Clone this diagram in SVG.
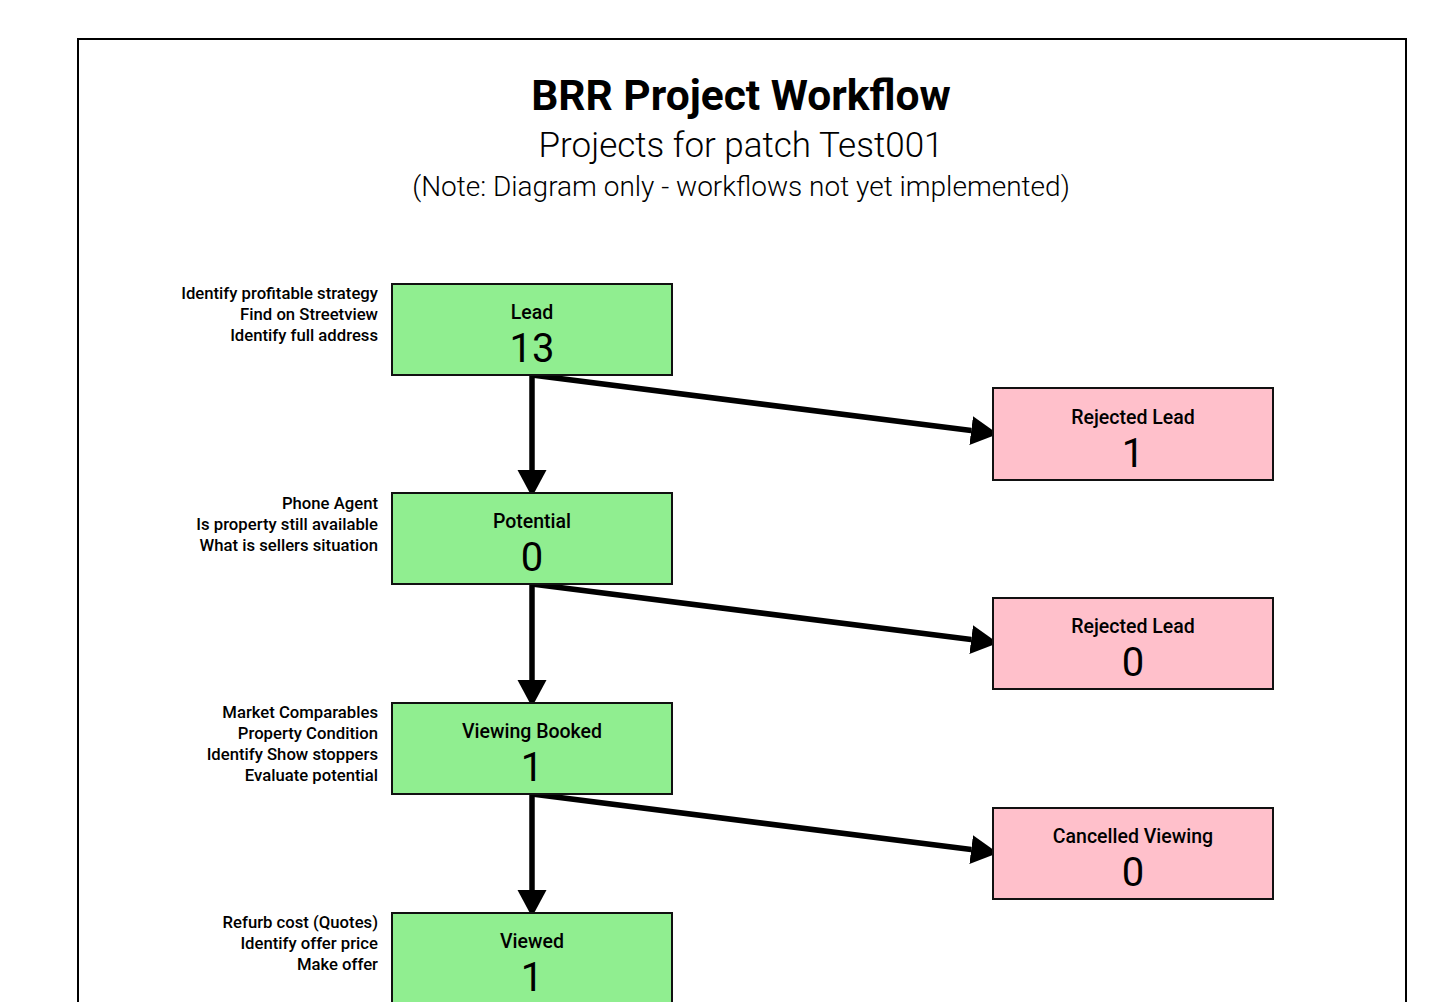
<svg xmlns="http://www.w3.org/2000/svg" width="1448" height="1002" viewBox="0 0 1448 1002">
<defs>
<style>
.frame{fill:#fff;stroke:#000;stroke-width:2}
.ok{fill:#90EE90;stroke:#111;stroke-width:2}
.bad{fill:#FFC0CB;stroke:#111;stroke-width:2}
.t{font-family:Roboto,"Liberation Sans",sans-serif;fill:#000}
.title{font-size:42.5px;font-weight:700;text-anchor:middle}
.sub{font-size:35px;font-weight:300;text-anchor:middle}
.note{font-size:28px;font-weight:300;text-anchor:middle}
.lbl{font-size:16.7px;font-weight:500;text-anchor:end}
.name{font-size:19.5px;font-weight:500;text-anchor:middle}
.cnt{font-size:40px;font-weight:400;text-anchor:middle}
.edge{stroke:#000;stroke-width:5.5;fill:none;marker-end:url(#ah)}
</style>
<marker id="ah" markerUnits="userSpaceOnUse" markerWidth="28" markerHeight="30" refX="0" refY="14.5" orient="auto" viewBox="0 0 28 29">
<path d="M0,0 L27,14.5 L0,29 z" fill="#000"/>
</marker>
</defs>
<rect x="0" y="0" width="1448" height="1002" fill="#fff"/>
<rect class="frame" x="78" y="39" width="1328" height="1000"/>
<g id="header">
<text class="t title" x="741" y="110">BRR Project Workflow</text>
<text class="t sub" x="741" y="157">Projects for patch Test001</text>
<text class="t note" x="741" y="196">(Note: Diagram only - workflows not yet implemented)</text>
</g>
<g id="connectors">
<line class="edge" x1="532" y1="375" x2="532" y2="470"/>
<line class="edge" x1="532" y1="375" x2="971.2" y2="430.6"/>
<line class="edge" x1="532" y1="584" x2="532" y2="680"/>
<line class="edge" x1="532" y1="584" x2="971.2" y2="639.6"/>
<line class="edge" x1="532" y1="794" x2="532" y2="890"/>
<line class="edge" x1="532" y1="794" x2="971.2" y2="849.6"/>
<line class="edge" x1="532" y1="1004" x2="971.2" y2="1059.6"/>
</g>
<g id="lead">
<rect class="ok" x="392" y="284" width="280" height="91"/>
<text class="t name" x="532" y="319">Lead</text>
<text class="t cnt" x="532" y="362">13</text>
<text class="t lbl" x="378" y="299">Identify profitable strategy</text>
<text class="t lbl" x="378" y="320">Find on Streetview</text>
<text class="t lbl" x="378" y="341">Identify full address</text>
</g>
<g id="rejected-lead-1">
<rect class="bad" x="993" y="388" width="280" height="92"/>
<text class="t name" x="1133" y="424">Rejected Lead</text>
<text class="t cnt" x="1133" y="467">1</text>
</g>
<g id="potential">
<rect class="ok" x="392" y="493" width="280" height="91"/>
<text class="t name" x="532" y="528">Potential</text>
<text class="t cnt" x="532" y="571">0</text>
<text class="t lbl" x="378" y="509">Phone Agent</text>
<text class="t lbl" x="378" y="530">Is property still available</text>
<text class="t lbl" x="378" y="551">What is sellers situation</text>
</g>
<g id="rejected-lead-2">
<rect class="bad" x="993" y="598" width="280" height="91"/>
<text class="t name" x="1133" y="633">Rejected Lead</text>
<text class="t cnt" x="1133" y="676">0</text>
</g>
<g id="viewing-booked">
<rect class="ok" x="392" y="703" width="280" height="91"/>
<text class="t name" x="532" y="738">Viewing Booked</text>
<text class="t cnt" x="532" y="781">1</text>
<text class="t lbl" x="378" y="718">Market Comparables</text>
<text class="t lbl" x="378" y="739">Property Condition</text>
<text class="t lbl" x="378" y="760">Identify Show stoppers</text>
<text class="t lbl" x="378" y="781">Evaluate potential</text>
</g>
<g id="cancelled-viewing">
<rect class="bad" x="993" y="808" width="280" height="91"/>
<text class="t name" x="1133" y="843">Cancelled Viewing</text>
<text class="t cnt" x="1133" y="886">0</text>
</g>
<g id="viewed">
<rect class="ok" x="392" y="913" width="280" height="91"/>
<text class="t name" x="532" y="948">Viewed</text>
<text class="t cnt" x="532" y="991">1</text>
<text class="t lbl" x="378" y="928">Refurb cost (Quotes)</text>
<text class="t lbl" x="378" y="949">Identify offer price</text>
<text class="t lbl" x="378" y="970">Make offer</text>
</g>
</svg>
